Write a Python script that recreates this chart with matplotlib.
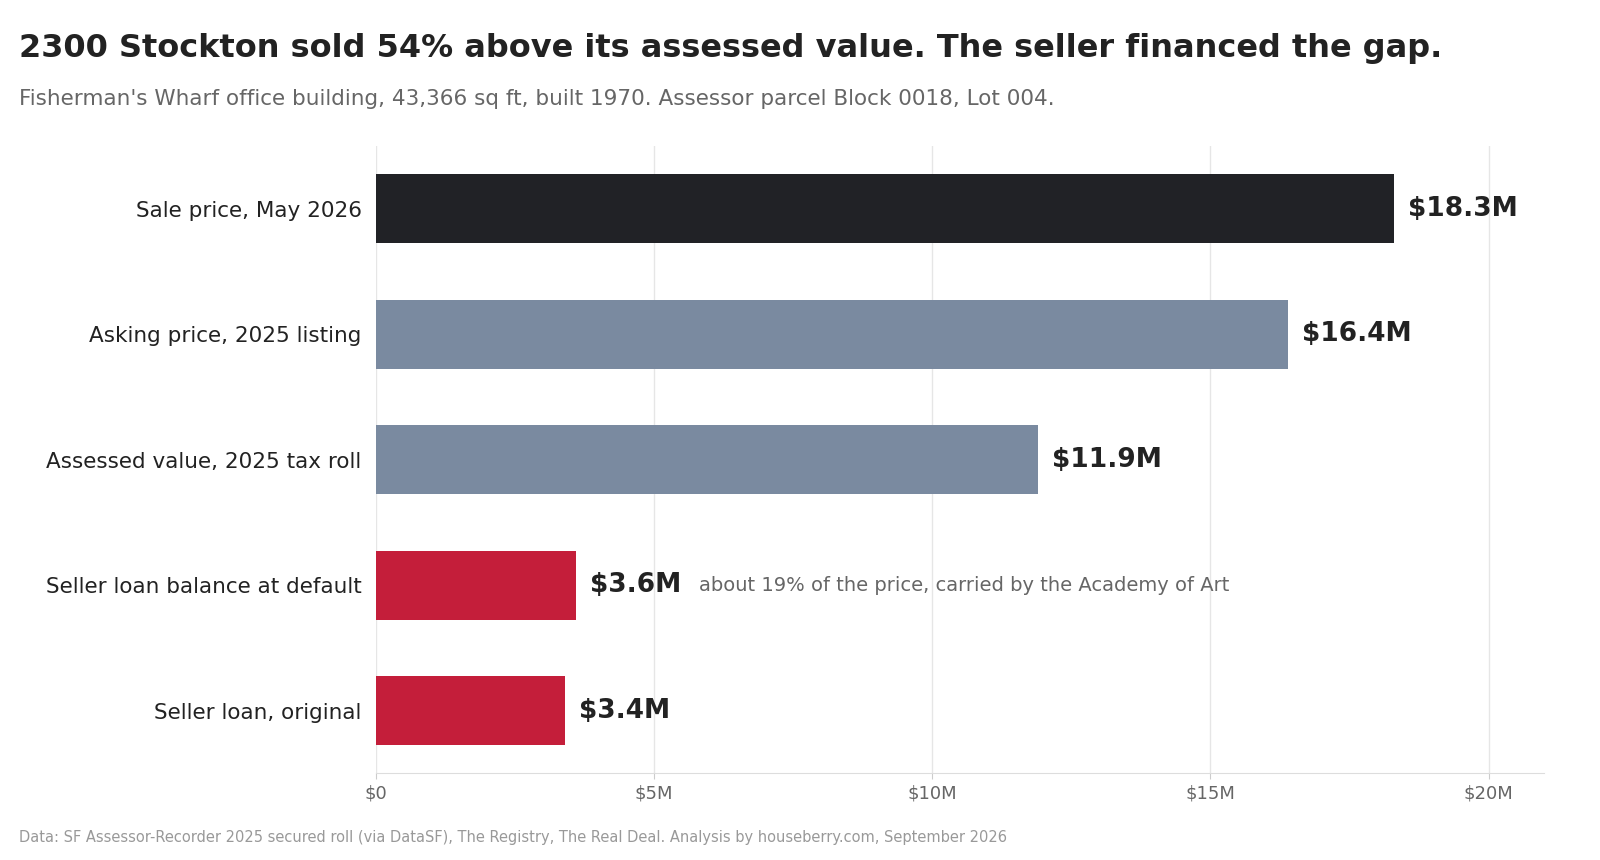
import matplotlib.pyplot as plt

plt.rcParams['font.family'] = ['DejaVu Sans']

# ---------------------------------
# Data
# ---------------------------------
labels = [
    "Sale price, May 2026",
    "Asking price, 2025 listing",
    "Assessed value, 2025 tax roll",
    "Seller loan balance at default",
    "Seller loan, original",
]
values = [18.3, 16.4, 11.9, 3.6, 3.4]  # $ millions
value_text = ["$18.3M", "$16.4M", "$11.9M", "$3.6M", "$3.4M"]
colors = ["#212226", "#7a8aa0", "#7a8aa0", "#c41e3a", "#c41e3a"]
note_text = "about 19% of the price, carried by the Academy of Art"
note_row = 3

ticks = [0, 5, 10, 15, 20]
tick_labels = ["$0", "$5M", "$10M", "$15M", "$20M"]

# ---------------------------------
# Figure
# ---------------------------------
fig = plt.figure(figsize=(16, 8.6), dpi=100)
ax = fig.add_axes([0.2347, 0.1008, 0.7305, 0.7297])

ypos = list(range(len(labels)))
ax.barh(ypos, values, height=0.55, color=colors, zorder=3)

ax.set_ylim(4.5, -0.5)
ax.set_xlim(0, 21)
ax.set_yticks(ypos)
ax.set_yticklabels(labels, fontsize=15.5, color="#222222")
ax.tick_params(axis="y", length=0, pad=10)

ax.set_xticks(ticks)
ax.set_xticklabels(tick_labels)
ax.tick_params(axis="x", length=4, color="#cccccc", labelsize=13,
               labelcolor="#666666", pad=4)

ax.grid(axis="x", color="#e6e6e6", linewidth=1, zorder=0)
for side in ["top", "right", "left"]:
    ax.spines[side].set_visible(False)
ax.spines["bottom"].set_color("#dddddd")

# value labels
for i, (v, t) in enumerate(zip(values, value_text)):
    ax.annotate(t, xy=(v, i), xytext=(10, 0), textcoords="offset points",
                va="center", ha="left", fontsize=19, fontweight="bold",
                color="#222222")

ax.annotate(note_text, xy=(values[note_row], note_row), xytext=(89, 0),
            textcoords="offset points", va="center", ha="left",
            fontsize=14, color="#666666")

# ---------------------------------
# Titles / footer
# ---------------------------------
fig.text(0.012, 0.934, "2300 Stockton sold 54% above its assessed value. The seller financed the gap.",
         fontsize=23, fontweight="bold", color="#222222", va="baseline")
fig.text(0.012, 0.878, "Fisherman's Wharf office building, 43,366 sq ft, built 1970. Assessor parcel Block 0018, Lot 004.",
         fontsize=15.5, color="#666666", va="baseline")
fig.text(0.012, 0.021, "Data: SF Assessor-Recorder 2025 secured roll (via DataSF), The Registry, The Real Deal. Analysis by houseberry.com, September 2026",
         fontsize=10.5, color="#999999", va="baseline")

fig.savefig("out.png", dpi=100)
